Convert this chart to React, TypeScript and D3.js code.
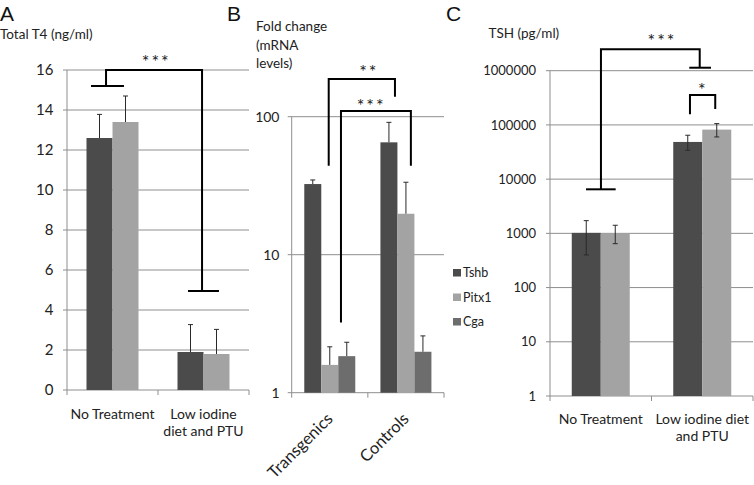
import React from "react";
import * as d3 from "d3";

// ---------- Data ----------
const t4Categories = [["No Treatment"], ["Low iodine", "diet and PTU"]];
const t4Dark = [12.6, 1.9];
const t4DarkErr = [1.18, 1.37];
const t4Light = [13.4, 1.8];
const t4LightErr = [1.3, 1.23];
const t4Ticks = [0, 2, 4, 6, 8, 10, 12, 14, 16];

const mrnaCategories = ["Transgenics", "Controls"];
const mrnaGenes = ["Tshb", "Pitx1", "Cga"];
const tshbValues = [32.5, 65.2];
const tshbErr = [2.3, 25.8];
const pitx1Values = [1.59, 19.8];
const pitx1Err = [0.56, 13.7];
const cgaValues = [1.84, 1.98];
const cgaErr = [0.48, 0.6];
const mrnaTicks = [1, 10, 100];

const tshCategories = [["No Treatment"], ["Low iodine diet", "and PTU"]];
const tshDark = [1020, 48500];
const tshDarkLow = [400, 34100];
const tshDarkHigh = [1715, 64500];
const tshLight = [1000, 81900];
const tshLightLow = [645, 60000];
const tshLightHigh = [1410, 105700];
const tshTicks = [1, 10, 100, 1000, 10000, 100000, 1000000];

// significance brackets: x in category units, y in data units
const t4Brackets = [
  { label: "***", x1: 0.429, x2: 1.484, top: 16, y1: 15.2, y2: 4.95, c1: [0.264, 0.626], c2: [1.33, 1.67], lx: 0.97, ly: 16.6 },
];
const mrnaBrackets = [
  { label: "**", x1: 0.486, x2: 1.356, top: 187.6, y1: 44.2, y2: 139.6, c1: null, c2: null, lx: 1.0, ly: 225 },
  { label: "***", x1: 0.647, x2: 1.565, top: 110, y1: 3.22, y2: 44.2, c1: null, c2: null, lx: 1.03, ly: 128.5 },
];
const tshBrackets = [
  { label: "***", x1: 0.502, x2: 1.475, top: 2.48e6, y1: 6490, y2: 1.135e6, c1: [0.355, 0.647], c2: [1.372, 1.586], lx: 1.094, ly: 4.23e6 },
  { label: "*", x1: 1.379, x2: 1.628, top: 356000, y1: 156900, y2: 196500, c1: null, c2: null, lx: 1.497, ly: 521000 },
];

// ---------- Style ----------
const FONT = "Lato, 'Open Sans', sans-serif";
const LETTER_FONT = "'Liberation Sans', Arial, sans-serif";
const DARK = "#4b4b4b";
const LIGHT = "#a3a3a3";
const MID = "#6d6d6d";
const GRID = "#8e8e8e";
const ERR = "#2a2a2a";

function Bracket({ b, xs, ys }) {
  const x1 = xs(b.x1), x2 = xs(b.x2), yt = ys(b.top);
  return (
    <g>
      <path d={`M${x1},${ys(b.y1)}V${yt}H${x2}V${ys(b.y2)}`} fill="none" stroke="#000" strokeWidth={2} />
      {b.c1 && <line x1={xs(b.c1[0])} x2={xs(b.c1[1])} y1={ys(b.y1)} y2={ys(b.y1)} stroke="#000" strokeWidth={2} />}
      {b.c2 && <line x1={xs(b.c2[0])} x2={xs(b.c2[1])} y1={ys(b.y2)} y2={ys(b.y2)} stroke="#000" strokeWidth={2} />}
      <text x={xs(b.lx)} y={ys(b.ly)} dx={1} dy="0.57em" textAnchor="middle" fontSize={18} letterSpacing={2} fill="#1a1a1a">{b.label}</text>
    </g>
  );
}

function ErrorBar({ x, y0, y1, cap }) {
  return (
    <g stroke={ERR} strokeWidth={1}>
      <line x1={x} x2={x} y1={y0} y2={y1} />
      <line x1={x - cap} x2={x + cap} y1={y1} y2={y1} />
    </g>
  );
}

function PanelA() {
  const left = 67, right = 249;
  const y = d3.scaleLinear().domain([0, 16]).range([390, 70]);
  const x0 = d3.scaleBand().domain(d3.range(t4Categories.length)).range([left, right]);
  const bw = x0.bandwidth();
  const xs = d3.scaleLinear().domain([0, t4Categories.length]).range([left, right]);
  const x1 = d3.scaleBand().domain(["dark", "light"]).range([0, bw]).paddingOuter(0.75);
  const series = [
    { key: "dark", vals: t4Dark, err: t4DarkErr, color: DARK },
    { key: "light", vals: t4Light, err: t4LightErr, color: LIGHT },
  ];
  return (
    <g fontFamily={FONT}>
      <text x={0} y={20.5} fontSize={21} fill="#111" fontFamily={LETTER_FONT}>A</text>
      <text x={0} y={38.5} fontSize={13.5} fill="#222">Total T4 (ng/ml)</text>
      {t4Ticks.map((t) => (
        <g key={t}>
          <line x1={left - 4} x2={right} y1={y(t)} y2={y(t)} stroke={GRID} strokeWidth={1} />
          <text x={53.5} y={y(t)} dy="0.36em" textAnchor="end" fontSize={15} fill="#222">{t}</text>
        </g>
      ))}
      <line x1={left} x2={left} y1={y(16)} y2={y(0)} stroke={GRID} />
      {d3.range(t4Categories.length + 1).map((i) => (
        <line key={i} x1={xs(i)} x2={xs(i)} y1={y(0)} y2={y(0) + 5} stroke={GRID} />
      ))}
      {t4Categories.map((_, i) =>
        series.map((s) => {
          const bx = x0(i) + x1(s.key);
          return (
            <g key={s.key + i}>
              <rect x={bx} y={y(s.vals[i])} width={x1.bandwidth()} height={y(0) - y(s.vals[i])} fill={s.color} />
              <ErrorBar x={bx + x1.bandwidth() / 2} y0={y(s.vals[i])} y1={y(s.vals[i] + s.err[i])} cap={2.5} />
            </g>
          );
        })
      )}
      {t4Categories.map((lines, i) =>
        lines.map((l, j) => (
          <text key={i + "-" + j} x={x0(i) + bw / 2} y={418.5 + j * 17} textAnchor="middle" fontSize={14} fill="#222">{l}</text>
        ))
      )}
      {t4Brackets.map((b, i) => <Bracket key={i} b={b} xs={xs} ys={y} />)}
    </g>
  );
}

function PanelB() {
  const left = 291.7, right = 444;
  const y = d3.scaleLog().domain([1, 100]).range([392.7, 116.7]);
  const x0 = d3.scaleBand().domain(d3.range(mrnaCategories.length)).range([left, right]);
  const bw = x0.bandwidth();
  const xs = d3.scaleLinear().domain([0, mrnaCategories.length]).range([left, right]);
  const x1 = d3.scaleBand().domain(mrnaGenes).range([0, bw]).paddingOuter(0.74);
  const series = [
    { key: "Tshb", vals: tshbValues, err: tshbErr, color: DARK },
    { key: "Pitx1", vals: pitx1Values, err: pitx1Err, color: LIGHT },
    { key: "Cga", vals: cgaValues, err: cgaErr, color: MID },
  ];
  return (
    <g fontFamily={FONT}>
      <text x={227} y={20.5} fontSize={21} fill="#111" fontFamily={LETTER_FONT}>B</text>
      {["Fold change", "(mRNA", "levels)"].map((l, i) => (
        <text key={i} x={256} y={31 + i * 18.5} fontSize={13.5} fill="#222">{l}</text>
      ))}
      {mrnaTicks.map((t) => (
        <g key={t}>
          <line x1={left - 4} x2={right} y1={y(t)} y2={y(t)} stroke={GRID} strokeWidth={1} />
          <text x={279.5} y={y(t)} dy="0.36em" textAnchor="end" fontSize={14} fill="#222">{t}</text>
        </g>
      ))}
      <line x1={left} x2={left} y1={y(100)} y2={y(1)} stroke={GRID} />
      {d3.range(mrnaCategories.length + 1).map((i) => (
        <line key={i} x1={xs(i)} x2={xs(i)} y1={y(1)} y2={y(1) + 5} stroke={GRID} />
      ))}
      {mrnaCategories.map((_, i) =>
        series.map((s) => {
          const bx = x0(i) + x1(s.key);
          return (
            <g key={s.key + i}>
              <rect x={bx} y={y(s.vals[i])} width={x1.bandwidth()} height={y(1) - y(s.vals[i])} fill={s.color} />
              <ErrorBar x={bx + x1.bandwidth() / 2} y0={y(s.vals[i])} y1={y(s.vals[i] + s.err[i])} cap={2.5} />
            </g>
          );
        })
      )}
      {mrnaCategories.map((c, i) => (
        <text key={c} transform={`translate(${x0(i) + bw / 2 + 4},${420}) rotate(-45)`} textAnchor="end" fontSize={16.5} fill="#222">{c}</text>
      ))}
      {series.map((s, i) => (
        <g key={s.key}>
          <rect x={453} y={269 + i * 24.5} width={8} height={7.5} fill={s.color} />
          <text x={463} y={272.8 + i * 24.5} dy="0.36em" fontSize={12.5} fill="#222">{s.key}</text>
        </g>
      ))}
      {mrnaBrackets.map((b, i) => <Bracket key={i} b={b} xs={xs} ys={y} />)}
    </g>
  );
}

function PanelC() {
  const left = 550, right = 753;
  const y = d3.scaleLog().domain([1, 1e6]).range([396, 70.7]);
  const x0 = d3.scaleBand().domain(d3.range(tshCategories.length)).range([left, right]);
  const bw = x0.bandwidth();
  const xs = d3.scaleLinear().domain([0, tshCategories.length]).range([left, right]);
  const x1 = d3.scaleBand().domain(["dark", "light"]).range([0, bw]).paddingOuter(0.75);
  const series = [
    { key: "dark", vals: tshDark, lo: tshDarkLow, hi: tshDarkHigh, color: DARK },
    { key: "light", vals: tshLight, lo: tshLightLow, hi: tshLightHigh, color: LIGHT },
  ];
  return (
    <g fontFamily={FONT}>
      <text x={446} y={20.5} fontSize={21} fill="#111" fontFamily={LETTER_FONT}>C</text>
      <text x={488.5} y={38} fontSize={13.5} fill="#222">TSH (pg/ml)</text>
      {tshTicks.map((t) => (
        <g key={t}>
          <line x1={left - 4} x2={right} y1={y(t)} y2={y(t)} stroke={GRID} strokeWidth={1} />
          <text x={536} y={y(t)} dy="0.36em" textAnchor="end" fontSize={13} fill="#222">{t}</text>
        </g>
      ))}
      <line x1={left} x2={left} y1={y(1e6)} y2={y(1)} stroke={GRID} />
      {d3.range(tshCategories.length + 1).map((i) => (
        <line key={i} x1={xs(i)} x2={xs(i)} y1={y(1)} y2={y(1) + 5} stroke={GRID} />
      ))}
      {tshCategories.map((_, i) =>
        series.map((s) => {
          const bx = x0(i) + x1(s.key);
          const cx = bx + x1.bandwidth() / 2;
          return (
            <g key={s.key + i}>
              <rect x={bx} y={y(s.vals[i])} width={x1.bandwidth()} height={y(1) - y(s.vals[i])} fill={s.color} />
              <g stroke={ERR} strokeWidth={1}>
                <line x1={cx} x2={cx} y1={y(s.lo[i])} y2={y(s.hi[i])} />
                <line x1={cx - 2.5} x2={cx + 2.5} y1={y(s.lo[i])} y2={y(s.lo[i])} />
                <line x1={cx - 2.5} x2={cx + 2.5} y1={y(s.hi[i])} y2={y(s.hi[i])} />
              </g>
            </g>
          );
        })
      )}
      {tshCategories.map((lines, i) =>
        lines.map((l, j) => (
          <text key={i + "-" + j} x={x0(i) + bw / 2} y={423.5 + j * 17.5} textAnchor="middle" fontSize={14} fill="#222">{l}</text>
        ))
      )}
      {tshBrackets.map((b, i) => <Bracket key={i} b={b} xs={xs} ys={y} />)}
    </g>
  );
}

export default function App() {
  return (
    <svg width={754} height={485} style={{ position: "absolute", left: 0, top: 0, background: "#fff" }}>
      <rect width={754} height={485} fill="#fff" />
      <PanelA />
      <PanelB />
      <PanelC />
    </svg>
  );
}
